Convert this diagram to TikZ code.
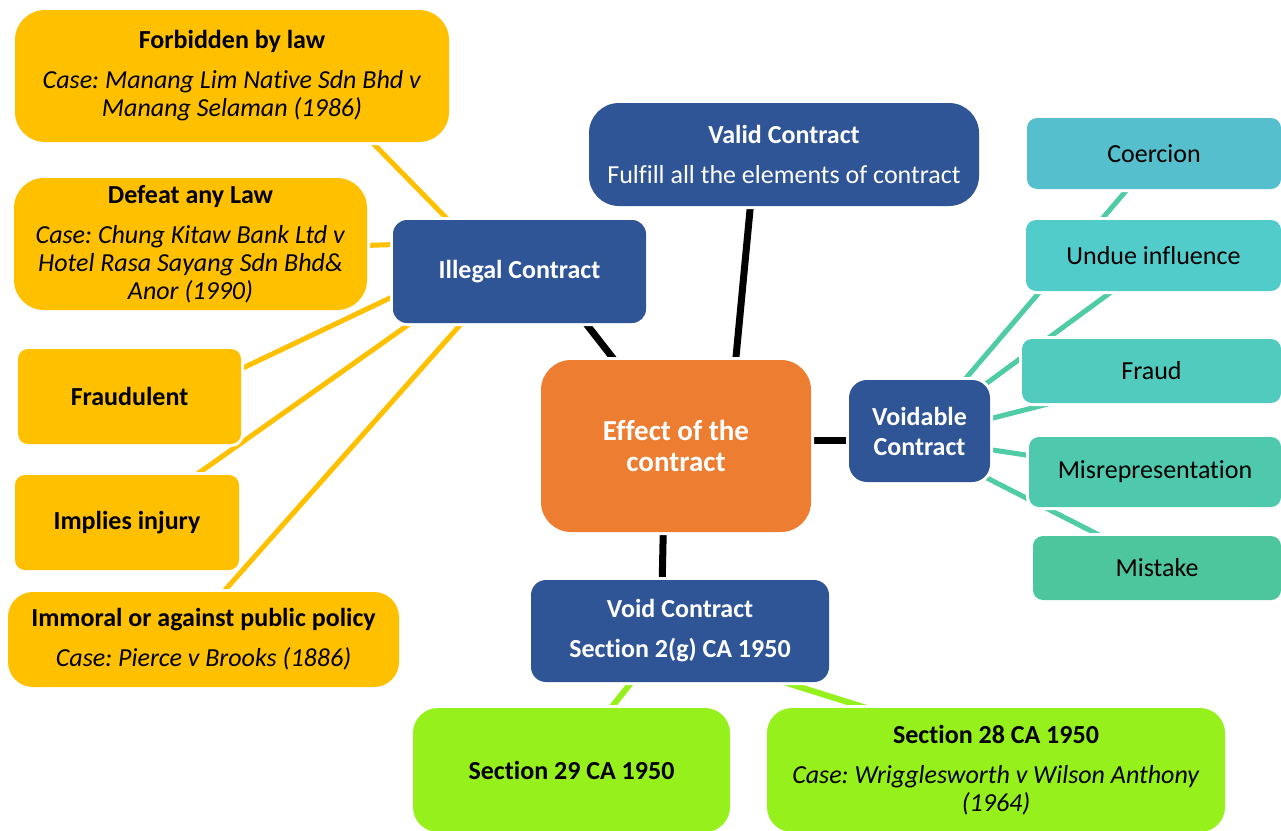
\documentclass[tikz,border=0pt]{standalone}
\usepackage{fontspec}
\setmainfont{Carlito}[Ligatures=NoCommon]
\usetikzlibrary{backgrounds}

\definecolor{gold}{HTML}{FFC000}
\definecolor{navy}{HTML}{2F5597}
\definecolor{orng}{HTML}{ED7D31}
\definecolor{lime}{HTML}{95F01C}
\definecolor{tealA}{HTML}{55BFCD}
\definecolor{tealB}{HTML}{52CCCB}
\definecolor{tealC}{HTML}{51CBBD}
\definecolor{tealD}{HTML}{4FC9AD}
\definecolor{tealE}{HTML}{4DC69D}
\definecolor{tealline}{HTML}{4FCBA6}

\frenchspacing
\begin{document}
\begin{tikzpicture}[x=1pt,y=-1pt,
  box/.style={rectangle, rounded corners=#1, inner sep=0pt, align=center,
    font=\fontsize{26}{28}\selectfont,
    preaction={draw=white, line width=6pt}},
  goldbox/.style={box=#1, fill=gold, text=black},
  navybox/.style={box=#1, fill=navy, text=white},
  limebox/.style={box=#1, fill=lime, text=black},
  tealbox/.style={box=10pt, text=black},
  goldline/.style={draw=gold, line width=5pt},
  blackline/.style={draw=black, line width=7pt},
  tealconn/.style={draw=tealline, line width=5pt},
  limeline/.style={draw=lime, line width=6pt},
]
\useasboundingbox (0,0) rectangle (1281,830);
\clip (0,0) rectangle (1281,830);

% --- centre ---
\node[box=30pt, fill=orng, text=white, font=\fontsize{29}{31}\selectfont\bfseries,
  minimum width=270pt, minimum height=172pt] (effect) at (676,446)
  {Effect of the\\contract};

% --- main branches ---
\node[navybox=14pt, font=\fontsize{26}{28}\selectfont\bfseries,
  minimum width=253pt, minimum height=103pt] (illegal) at (519.5,271.5)
  {Illegal Contract};
\node[navybox=30pt, minimum width=390pt, minimum height=103pt] (valid) at (784,154.5)
  {\textbf{Valid Contract}\\[12pt]Fulfill all the elements of contract};
\node[navybox=18pt, font=\fontsize{26}{30}\selectfont\bfseries,
  minimum width=141pt, minimum height=102pt] (voidable) at (919.5,431)
  {Voidable\\Contract};
\node[navybox=15pt, font=\fontsize{26}{28}\selectfont\bfseries,
  minimum width=298pt, minimum height=102pt] (void) at (680,631)
  {Void Contract\\[12pt]Section 2(g) CA 1950};

% --- illegal contract branch ---
\node[goldbox=30pt, minimum width=434pt, minimum height=132pt] (forb) at (232,76)
  {\textbf{Forbidden by law}\\[12pt]\textit{Case: Manang Lim Native Sdn Bhd v}\\\textit{Manang Selaman (1986)}};
\node[goldbox=30pt, minimum width=353pt, minimum height=132pt] (defeat) at (190.5,244)
  {\textbf{Defeat any Law}\\[12pt]\textit{Case: Chung Kitaw Bank Ltd v}\\\textit{Hotel Rasa Sayang Sdn Bhd\&}\\\textit{Anor (1990)}};
\node[goldbox=10pt, minimum width=223pt, minimum height=95pt] (fraudl) at (129.5,396.5)
  {\textbf{Fraudulent}};
\node[goldbox=10pt, minimum width=224pt, minimum height=95pt] (implies) at (127,522.5)
  {\textbf{Implies injury}};
\node[goldbox=25pt, minimum width=391pt, minimum height=95pt] (immoral) at (203.5,639.5)
  {\textbf{Immoral or against public policy}\\[12pt]\textit{Case: Pierce v Brooks (1886)}};

% --- voidable contract branch ---
\node[tealbox, fill=tealA, minimum width=254pt, minimum height=71pt] (coercion) at (1154,153.5) {Coercion};
\node[tealbox, fill=tealB, minimum width=255pt, minimum height=71pt] (undue) at (1153.5,255.5) {Undue influence};
\node[tealbox, fill=tealC, minimum width=259pt, minimum height=64pt] (fraud) at (1151.5,371) {Fraud};
\node[tealbox, fill=tealD, minimum width=252pt, minimum height=70pt] (misrep) at (1155,472) {Misrepresentation};
\node[tealbox, fill=tealE, minimum width=248pt, minimum height=64pt] (mistake) at (1157,568) {Mistake};

% --- void contract branch ---
\node[limebox=25pt, minimum width=317pt, minimum height=124pt] (sec29) at (571.5,770)
  {\textbf{Section 29 CA 1950}};
\node[limebox=25pt, minimum width=458pt, minimum height=124pt] (sec28) at (996,770)
  {\textbf{Section 28 CA 1950}\\[12pt]\textit{Case: Wrigglesworth v Wilson Anthony}\\\textit{(1964)}};

% --- connectors, behind the boxes ---
\begin{pgfonlayer}{background}
  \draw[goldline] ([shift={(128,54)}]forb.center) -- ([shift={(-59.5,-39.5)}]illegal.center);
  \draw[goldline] ([shift={(159.5,2)}]defeat.center) -- ([shift={(-109.5,-27.5)}]illegal.center);
  \draw[goldline] ([shift={(95.5,-20)}]fraudl.center) -- ([shift={(-109.5,17)}]illegal.center);
  \draw[goldline] ([shift={(59,-40.5)}]implies.center) -- ([shift={(-99.5,45)}]illegal.center);
  \draw[goldline] ([shift={(10.5,-37)}]immoral.center) -- ([shift={(-47.5,40)}]illegal.center);

  \draw[blackline] ([shift={(55.5,38)}]illegal.center) -- ([shift={(-51,-72.4)}]effect.center);
  \draw[blackline] ([shift={(-32,34.5)}]valid.center) -- ([shift={(58,-68)}]effect.center);
  \draw[blackline] ([shift={(119,-6)}]effect.center) -- ([shift={(-52.5,9)}]voidable.center);
  \draw[blackline] ([shift={(-12.5,74)}]effect.center) -- ([shift={(-18,-41)}]void.center);

  \draw[limeline] ([shift={(-42,43)}]void.center) -- ([shift={(35.5,-57)}]sec29.center);
  \draw[limeline] ([shift={(90,46.7)}]void.center) -- ([shift={(-116,-57.8)}]sec28.center);

  \draw[tealconn] ([shift={(35.5,-40)}]voidable.center) -- ([shift={(-19,26.8)}]coercion.center);
  \draw[tealconn] ([shift={(55.5,-39.2)}]voidable.center) -- ([shift={(-33.5,30)}]undue.center);
  \draw[tealconn] ([shift={(55.5,-8.4)}]voidable.center) -- ([shift={(-91.5,29.9)}]fraud.center);
  \draw[tealconn] ([shift={(55.5,16.3)}]voidable.center) -- ([shift={(-110,-14.1)}]misrep.center);
  \draw[tealconn] ([shift={(55.5,40.9)}]voidable.center) -- ([shift={(-47,-27.4)}]mistake.center);
\end{pgfonlayer}
\end{tikzpicture}
\end{document}
